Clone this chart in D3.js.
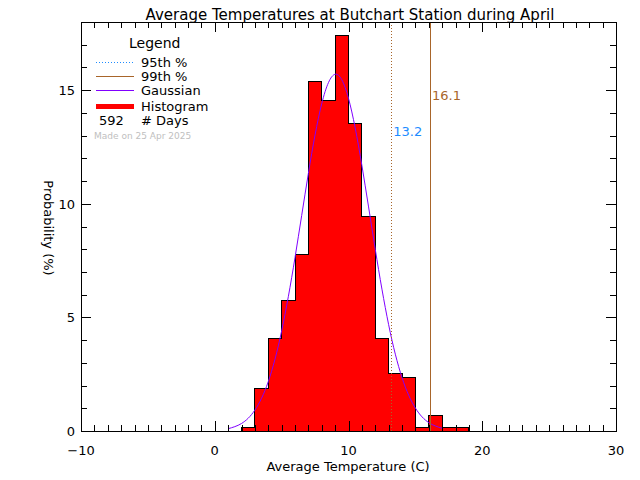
<!DOCTYPE html>
<html>
<head>
<meta charset="utf-8">
<title>Average Temperatures at Butchart Station during April</title>
<style>
html, body {
    margin: 0;
    padding: 0;
    background: #fff;
}
svg text {
    font-family: 'DejaVu Sans', sans-serif;
    font-size: 13px;
    fill: #000;
}
.axis path, .axis line {
    stroke: #000;
    stroke-width: 1px;
    shape-rendering: crispEdges;
}
</style>
<script src="https://d3js.org/d3.v7.min.js"></script>
</head>
<body>
<svg width="640" height="480"></svg>
<script>

// histogram: bin starts (1 C wide) and number of days in each
var binStarts = [2, 3, 4, 5, 6, 7, 8, 9, 10, 11, 12, 13, 14, 15, 16, 17, 18];
var dayCounts = [1, 11, 24, 34, 46, 91, 86, 103, 80, 56, 24, 15, 14, 1, 4, 1, 1];
var totalDays = 592;

// gaussian fit (percent)
var gaussX = [1, 2, 3, 4, 5, 6, 7, 8, 9, 10, 11, 12, 13, 14, 15, 16, 17];
var gaussY = [0.10, 0.33, 0.92, 2.17, 4.40, 7.63, 11.34, 14.41, 15.70, 14.64, 11.69, 8.0, 4.68, 2.35, 1.01, 0.37, 0.12];

var pct95 = 13.2, pct99 = 16.1;

var xTicks = [-10, 0, 10, 20, 30];
var yTicks = [0, 5, 10, 15];
var madeOn = "Made on 25 Apr 2025";

var svg = d3.select("svg");
var plotLeft = 81, plotRight = 616, plotTop = 22, plotBottom = 431;

var x = d3.scaleLinear().domain([-10, 30]).range([plotLeft, plotRight]);
var y = d3.scaleLinear().domain([0, 18]).range([plotBottom, plotTop]);

var red = "#ff0000", brown = "#a8652a", blue = "#1e8cff", purple = "#8000ff";

var pct = dayCounts.map(function(c) { return c / totalDays * 100; });

// bars
svg.append("g").selectAll("rect")
    .data(binStarts)
    .enter().append("rect")
      .attr("x", function(d) { return x(d); })
      .attr("y", function(d, i) { return y(pct[i]); })
      .attr("width", function(d) { return x(d + 1) - x(d); })
      .attr("height", function(d, i) { return y(0) - y(pct[i]); })
      .attr("fill", red)
      .attr("shape-rendering", "crispEdges");

// step outline
var step = [[binStarts[0], 0]];
binStarts.forEach(function(b, i) {
  step.push([b, pct[i]], [b + 1, pct[i]]);
});
step.push([binStarts[binStarts.length - 1] + 1, 0]);
svg.append("path")
    .attr("d", d3.line().x(function(d) { return x(d[0]); }).y(function(d) { return y(d[1]); })(step))
    .attr("fill", "none")
    .attr("stroke", "#000")
    .attr("stroke-width", 1)
    .attr("shape-rendering", "crispEdges");

// gaussian
svg.append("path")
    .datum(gaussX.map(function(v, i) { return [v, gaussY[i]]; }))
    .attr("d", d3.line().curve(d3.curveNatural)
        .x(function(d) { return x(d[0]); })
        .y(function(d) { return y(d[1]); }))
    .attr("fill", "none")
    .attr("stroke", purple)
    .attr("stroke-width", 1);

// percentile lines
svg.append("line")
    .attr("x1", x(pct95)).attr("x2", x(pct95))
    .attr("y1", y(0)).attr("y2", y(18))
    .attr("stroke", brown)
    .attr("stroke-dasharray", "1,2")
    .attr("shape-rendering", "crispEdges");
svg.append("line")
    .attr("x1", x(pct99)).attr("x2", x(pct99))
    .attr("y1", y(0)).attr("y2", y(18))
    .attr("stroke", brown)
    .attr("shape-rendering", "crispEdges");

svg.append("text")
    .attr("x", x(pct95) + 2).attr("y", 136)
    .style("fill", blue)
    .text(pct95.toFixed(1));
svg.append("text")
    .attr("x", x(pct99) + 2).attr("y", 100)
    .style("fill", brown)
    .text(pct99.toFixed(1));

// axes with minor ticks every unit
var xMinor = d3.range(-10, 31, 1);
var yMinor = d3.range(0, 19, 1);

function tickLen(v, majors, big, small) {
  return majors.indexOf(v) >= 0 ? big : small;
}

svg.append("g").attr("class", "axis")
    .attr("transform", "translate(0," + plotBottom + ")")
    .call(d3.axisBottom(x).tickValues(xMinor).tickSize(0).tickFormat(""))
    .call(function(g) {
      g.selectAll(".tick line").attr("y2", function(d) { return -tickLen(d, xTicks, 10, 6); });
    });
svg.append("g").attr("class", "axis")
    .attr("transform", "translate(0," + plotTop + ")")
    .call(d3.axisTop(x).tickValues(xMinor).tickSize(0).tickFormat(""))
    .call(function(g) {
      g.selectAll(".tick line").attr("y2", function(d) { return tickLen(d, xTicks, 10, 6); });
    });
svg.append("g").attr("class", "axis")
    .attr("transform", "translate(" + plotLeft + ",0)")
    .call(d3.axisLeft(y).tickValues(yMinor).tickSize(0).tickFormat(""))
    .call(function(g) {
      g.selectAll(".tick line").attr("x2", function(d) { return tickLen(d, yTicks, 10, 6); });
    });
svg.append("g").attr("class", "axis")
    .attr("transform", "translate(" + plotRight + ",0)")
    .call(d3.axisRight(y).tickValues(yMinor).tickSize(0).tickFormat(""))
    .call(function(g) {
      g.selectAll(".tick line").attr("x2", function(d) { return -tickLen(d, yTicks, 10, 6); });
    });

// tick labels
svg.append("g").selectAll("text")
    .data(xTicks)
    .enter().append("text")
      .attr("x", function(d) { return x(d); })
      .attr("y", 455)
      .attr("text-anchor", "middle")
      .text(function(d) { return d < 0 ? "\u2212" + Math.abs(d) : d; });
svg.append("g").selectAll("text")
    .data(yTicks)
    .enter().append("text")
      .attr("x", 75)
      .attr("y", function(d) { return y(d) + 5; })
      .attr("text-anchor", "end")
      .text(function(d) { return d; });

// titles
svg.append("text")
    .attr("x", 350).attr("y", 20)
    .attr("text-anchor", "middle")
    .style("font-size", "15px")
    .text("Average Temperatures at Butchart Station during April");
svg.append("text")
    .attr("x", 348).attr("y", 471)
    .attr("text-anchor", "middle")
    .text("Average Temperature (C)");
svg.append("text")
    .attr("transform", "translate(44,228) rotate(90)")
    .attr("text-anchor", "middle")
    .text("Probability (%)");

// legend
var legend = svg.append("g");
legend.append("text").attr("x", 129).attr("y", 48).style("font-size", "14px").text("Legend");

var legendRows = [
  {label: "95th %", color: blue, dash: "1,2", width: 1, y: 62},
  {label: "99th %", color: brown, dash: null, width: 1, y: 76},
  {label: "Gaussian", color: purple, dash: null, width: 1, y: 90},
  {label: "Histogram", color: red, dash: null, width: 5, y: 106}
];
legendRows.forEach(function(r) {
  legend.append("line")
      .attr("x1", 96).attr("x2", 134)
      .attr("y1", r.y).attr("y2", r.y)
      .attr("stroke", r.color)
      .attr("stroke-width", r.width)
      .attr("stroke-dasharray", r.dash)
      .attr("shape-rendering", "crispEdges");
  legend.append("text").attr("x", 141).attr("y", r.y + 5).text(r.label);
});
legend.append("text").attr("x", 99).attr("y", 125).text(totalDays);
legend.append("text").attr("x", 141).attr("y", 125).text("# Days");
legend.append("text").attr("x", 94).attr("y", 139)
    .style("font-size", "9px").style("fill", "#c0c0c0")
    .text(madeOn);

</script>
</body>
</html>
